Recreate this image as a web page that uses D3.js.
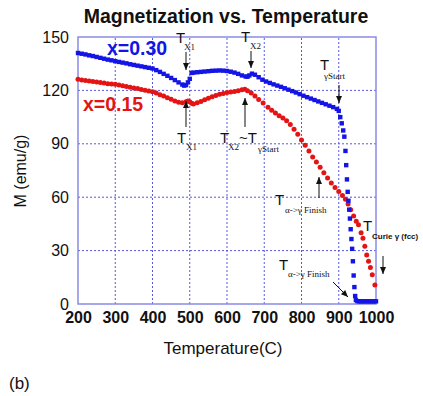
<!DOCTYPE html>
<html><head><meta charset="utf-8">
<script src="https://cdn.jsdelivr.net/npm/d3@7"></script>
<style>body{margin:0;background:#fff}svg{display:block}</style>
</head><body><svg id="c" width="423" height="396"></svg>
<script>
const xTicks = [200,300,400,500,600,700,800,900,1000];
const yTicks = [0,30,60,90,120,150];
// x=0.30 series (temperature, magnetization)
const blueT = [200,210,220,230,240,250,260,270,280,290,300,310,320,330,340,350,360,370,380,390,400,410,420,430,440,450,460,470,480,485,490,495,500,505,510,520,530,540,550,560,570,580,590,600,610,620,630,640,650,655,660,667,675,685,695,705,715,725,735,745,755,765,775,785,795,805,815,825,835,845,855,865,875,885,895,900,904,908,912,915,918,920,922,924,926,928,930,932,934,936,938,940,942,944,946,950,955,960,965,970,975,980,985,990,995,1000];
const blueM = [141,140.6,140.2,139.7,139.3,138.8,138.3,137.8,137.3,136.9,136.4,136.0,135.6,135.2,134.7,134.3,133.9,133.5,133.1,132.7,132.3,131.4,130.4,129.3,128.2,127.0,125.8,124.5,123.3,122.7,123.0,124.5,126.5,129.8,130.0,130.2,130.4,130.6,130.8,131.0,131.1,131.2,131.1,130.9,130.5,130.0,129.3,128.4,127.8,127.7,128.4,129.4,128.8,127.4,126.0,125.0,124.2,123.4,122.7,122.0,121.2,120.4,119.6,118.8,117.9,117.0,116.2,115.4,114.6,113.8,113.0,112.2,111.4,110.6,109.6,108.5,105,101.5,97.5,94,86,78,70,63,58,53,48,42,36.5,31,24,16,9.5,4.5,2.2,1.6,1.5,1.5,1.5,1.5,1.5,1.5,1.5,1.5,1.5,1.5];
// x=0.15 series
const redT = [200,210,220,230,240,250,260,270,280,290,300,310,320,330,340,350,360,370,380,390,400,410,420,430,440,450,460,470,480,490,495,500,505,510,520,530,540,550,560,570,580,590,600,610,620,630,640,648,655,665,675,685,697,710,720,730,740,750,760,770,780,790,800,810,820,830,840,850,860,870,880,890,900,910,918,925,932,940,947,953,960,965,970,975,980,985,990,997];
const redM = [126.2,125.9,125.6,125.3,125.0,124.7,124.4,124.1,123.8,123.6,123.4,123.0,122.6,122.2,121.8,121.4,121.0,120.5,120.1,119.7,119.3,118.5,117.6,116.8,115.9,115.0,114.1,113.3,113.0,113.6,114.0,113.6,112.8,112.4,113.0,113.8,114.7,115.6,116.5,117.2,117.8,118.3,118.8,119.1,119.4,119.8,120.3,120.6,119.8,118.5,116.8,114.9,112.9,110.5,108.8,107.3,105.8,104.5,103.0,100.8,98.2,95.3,92.2,89.2,86.0,82.6,79.8,76.8,73.8,70.8,68.0,65.5,63.2,61.0,58.8,56.2,53.0,49.5,46.5,44.5,40,37,32.5,27.5,24,20.5,16.5,10.7];

const svg = d3.select("#c");
const x = d3.scaleLinear().domain([200,1000]).range([78,376]);
const y = d3.scaleLinear().domain([0,150]).range([304,37]);
const frame = "#8a8ae6", grid = "#5858e0";
const blue = "#1414e6", red = "#e41414";
const sans = "Liberation Sans, Arial, sans-serif", serif = "Liberation Serif, Times New Roman, serif";

// grid
svg.append("g").selectAll("line").data(xTicks.slice(1,-1)).join("line")
  .attr("x1",d=>x(d)).attr("x2",d=>x(d)).attr("y1",y(0)).attr("y2",y(150))
  .attr("stroke",grid).attr("stroke-width",1).attr("stroke-dasharray","2,2");
svg.append("g").selectAll("line").data(yTicks.slice(1,-1)).join("line")
  .attr("y1",d=>y(d)).attr("y2",d=>y(d)).attr("x1",x(200)).attr("x2",x(1000))
  .attr("stroke",grid).attr("stroke-width",1).attr("stroke-dasharray","2,2");
svg.append("rect").attr("x",x(200)).attr("y",y(150)).attr("width",x(1000)-x(200)).attr("height",y(0)-y(150))
  .attr("fill","none").attr("stroke",frame).attr("stroke-width",1.5);

// axes labels
const xa = svg.append("g").attr("transform",`translate(0,${y(0)})`)
  .call(d3.axisBottom(x).tickValues(xTicks).tickSize(0).tickPadding(8).tickFormat(d3.format("d")));
xa.select(".domain").remove();
xa.selectAll("text").attr("font-family",sans).attr("font-size",16).attr("font-weight","bold").attr("fill","#111");
const ya = svg.append("g").attr("transform",`translate(${x(200)},0)`)
  .call(d3.axisLeft(y).tickValues(yTicks).tickSize(0).tickPadding(9).tickFormat(d3.format("d")));
ya.select(".domain").remove();
ya.selectAll("text").attr("font-family",sans).attr("font-size",16).attr("fill","#111");

svg.append("text").attr("x",226).attr("y",23).attr("text-anchor","middle").attr("font-family",sans)
  .attr("font-size",19.5).attr("font-weight","bold").attr("fill","#111").text("Magnetization vs. Temperature");
svg.append("text").attr("transform","translate(26,171) rotate(-90)").attr("text-anchor","middle").attr("font-family",sans)
  .attr("font-size",16).attr("fill","#111").text("M (emu/g)");
svg.append("text").attr("x",223).attr("y",354).attr("text-anchor","middle").attr("font-family",sans)
  .attr("font-size",17).attr("fill","#111").text("Temperature(C)");
svg.append("text").attr("x",9).attr("y",389).attr("font-family",sans).attr("font-size",17).attr("fill","#111").text("(b)");

// series
const redData = redT.map((t,i)=>[t,redM[i]]);
const blueData = blueT.map((t,i)=>[t,blueM[i]]);
svg.append("g").selectAll("circle").data(redData).join("circle")
  .attr("cx",d=>x(d[0])).attr("cy",d=>y(d[1])).attr("r",2.5).attr("fill",red);
svg.append("g").selectAll("rect").data(blueData).join("rect")
  .attr("x",d=>x(d[0])-2.2).attr("y",d=>y(d[1])-2.2).attr("width",4.4).attr("height",4.4).attr("fill",blue);

svg.append("text").attr("x",107).attr("y",55).attr("font-family",sans).attr("font-size",19.5).attr("font-weight","bold").attr("fill",blue).text("x=0.30");
svg.append("text").attr("x",83).attr("y",111).attr("font-family",sans).attr("font-size",19.5).attr("font-weight","bold").attr("fill",red).text("x=0.15");

// annotations
function T(xp,yp,sub,subDx,subDy,subSize){
  svg.append("text").attr("x",xp).attr("y",yp).attr("font-family",sans).attr("font-size",15).attr("fill","#111").text("T");
  if(sub) svg.append("text").attr("x",xp+subDx).attr("y",yp+subDy).attr("font-family",serif).attr("font-size",subSize||9).attr("fill","#111").text(sub);
}
function arrow(x1,y1,x2,y2){
  svg.append("line").attr("x1",x1).attr("y1",y1).attr("x2",x2).attr("y2",y2).attr("stroke","#111").attr("stroke-width",1);
  const a = Math.atan2(y2-y1,x2-x1), L=7, W=3;
  const p = [[x2,y2],[x2-L*Math.cos(a)+W*Math.sin(a), y2-L*Math.sin(a)-W*Math.cos(a)],[x2-L*Math.cos(a)-W*Math.sin(a), y2-L*Math.sin(a)+W*Math.cos(a)]];
  svg.append("path").attr("d","M"+p.map(q=>q.join(",")).join("L")+"Z").attr("fill","#111");
}
T(176,43,"X1",8,7);
arrow(186,52,186,70);
T(241,42,"X2",9,7);
arrow(251,51,251,68);
T(320,70,"γStart",4,9);
arrow(339,85,339,103);
T(177,143,"X1",9,7);
arrow(186,127,186,101);
T(220,143,"X2",8,7);
svg.append("text").attr("x",239).attr("y",143).attr("font-family",sans).attr("font-size",15).attr("fill","#111").text("~T");
svg.append("text").attr("x",258).attr("y",152).attr("font-family",serif).attr("font-size",9).attr("fill","#111").text("γStart");
arrow(245,127,245,98);
T(275,205,"α->γ Finish",10,8);
arrow(319,198,319,177);
T(279,270,"α->γ Finish",9,7);
arrow(333,282,348,297);
T(363,231,"",0,0);
svg.append("text").attr("x",372).attr("y",239).attr("font-family",sans).attr("font-size",8).attr("font-weight","bold").attr("fill","#111").text("Curie γ (fcc)");
arrow(383,256,383,274);
</script></body></html>
